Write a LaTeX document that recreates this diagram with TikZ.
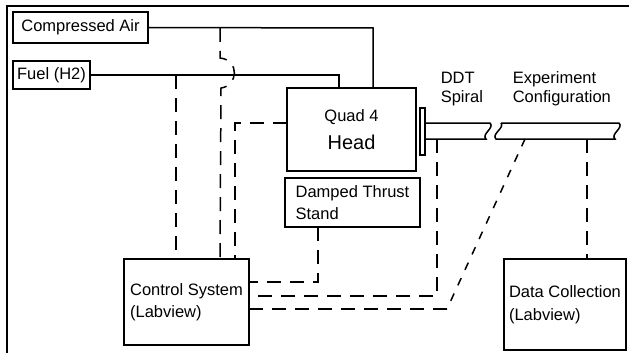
\documentclass[tikz,border=0pt]{standalone}
\usepackage{fontspec}
\setmainfont{Liberation Sans}
\usetikzlibrary{positioning,calc}

\begin{document}
\begin{tikzpicture}[
    x=1pt, y=-1pt,
    line width=1.5pt,
    box/.style={rectangle, draw, inner sep=0pt, font=\fontsize{16.5}{22.5}\selectfont, align=left},
    lbl/.style={inner sep=0pt, font=\fontsize{16.5}{19}\selectfont, align=left, anchor=west},
    sig/.style={dash pattern=on 14pt off 9pt},
    slant/.style={dash pattern=on 8pt off 9pt}
]
\useasboundingbox (0,0) rectangle (629,353);
\draw (7,353) -- (7,6) -- (629,6);
% supply boxes
\node[box, minimum width=135pt, minimum height=31pt] (air) at (80.5,27.5) {Compressed Air};
\node[box, minimum width=77pt, minimum height=28pt] (fuel) at (51.5,75) {Fuel (H2)};
% engine
\node[box, minimum width=129pt, minimum height=83pt, align=center] (quad) at (351.5,129.5)
    {Quad 4\\[5pt]{\fontsize{20}{24}\selectfont Head}};
\node[draw, rectangle, inner sep=0pt, minimum width=5pt, minimum height=47pt] (plate) at (422.5,131.5) {};
\node[box, minimum width=135pt, minimum height=49pt] (stand) at (352.5,202.5) {Damped Thrust\\Stand};
\node[box, minimum width=125pt, minimum height=86pt] (ctrl) at (186.5,302) {Control System\\(Labview)};
\node[box, minimum width=122pt, minimum height=91pt] (datac) at (565,304.5) {Data Collection\\(Labview)};
\node[lbl] (ddt) at (440,89) {DDT\\Spiral};
\node[lbl] (expc) at (512,89) {Experiment\\Configuration};
% pipes
\draw (plate.east |- 0,123) -- (490,123) .. controls (495,128) and (481,134) .. (486,139) -- (plate.east |- 0,139);
\draw (501,123) -- (619,123) .. controls (624,128) and (610,134) .. (615,139) -- (496,139)
    .. controls (491,134) and (505,128) .. (501,123);
% tap points
\coordinate (airin) at (373,28);
\coordinate (fuelin) at (339,75);
\coordinate (airtap) at (220,28);
\coordinate (fueltap) at (176,75);
\coordinate (headtap) at (287,123);
\coordinate (standtap) at (318,227);
\coordinate (ddttap) at (437,139);
\coordinate (exptap) at (525,139);
\coordinate (datatap) at (587,139);
% feed lines
\draw (air.east) -- (airin) -- (quad.north -| airin);
\draw (fuel.east) -- (fuelin) -- (quad.north -| fuelin);
% signal lines
\draw[sig] (fueltap) -- (ctrl.north -| fueltap);
\draw[sig] (airtap) -- (220,58) .. controls (240,60) and (238,86) .. (221,88) -- (ctrl.north -| airtap);
\draw[sig] (headtap) -- (235,123) -- (ctrl.north -| 235,0);
\draw[sig] (standtap) -- (318,282) -- (ctrl.east |- 0,282);
\draw[sig] (ddttap) -- (437,296) -- (ctrl.east |- 0,296);
\draw[slant] (exptap) -- (447,309);
\draw[sig] (447,309) -- (ctrl.east |- 0,309);
\draw[sig] (datatap) -- (datac.north -| datatap);
\end{tikzpicture}
\end{document}
